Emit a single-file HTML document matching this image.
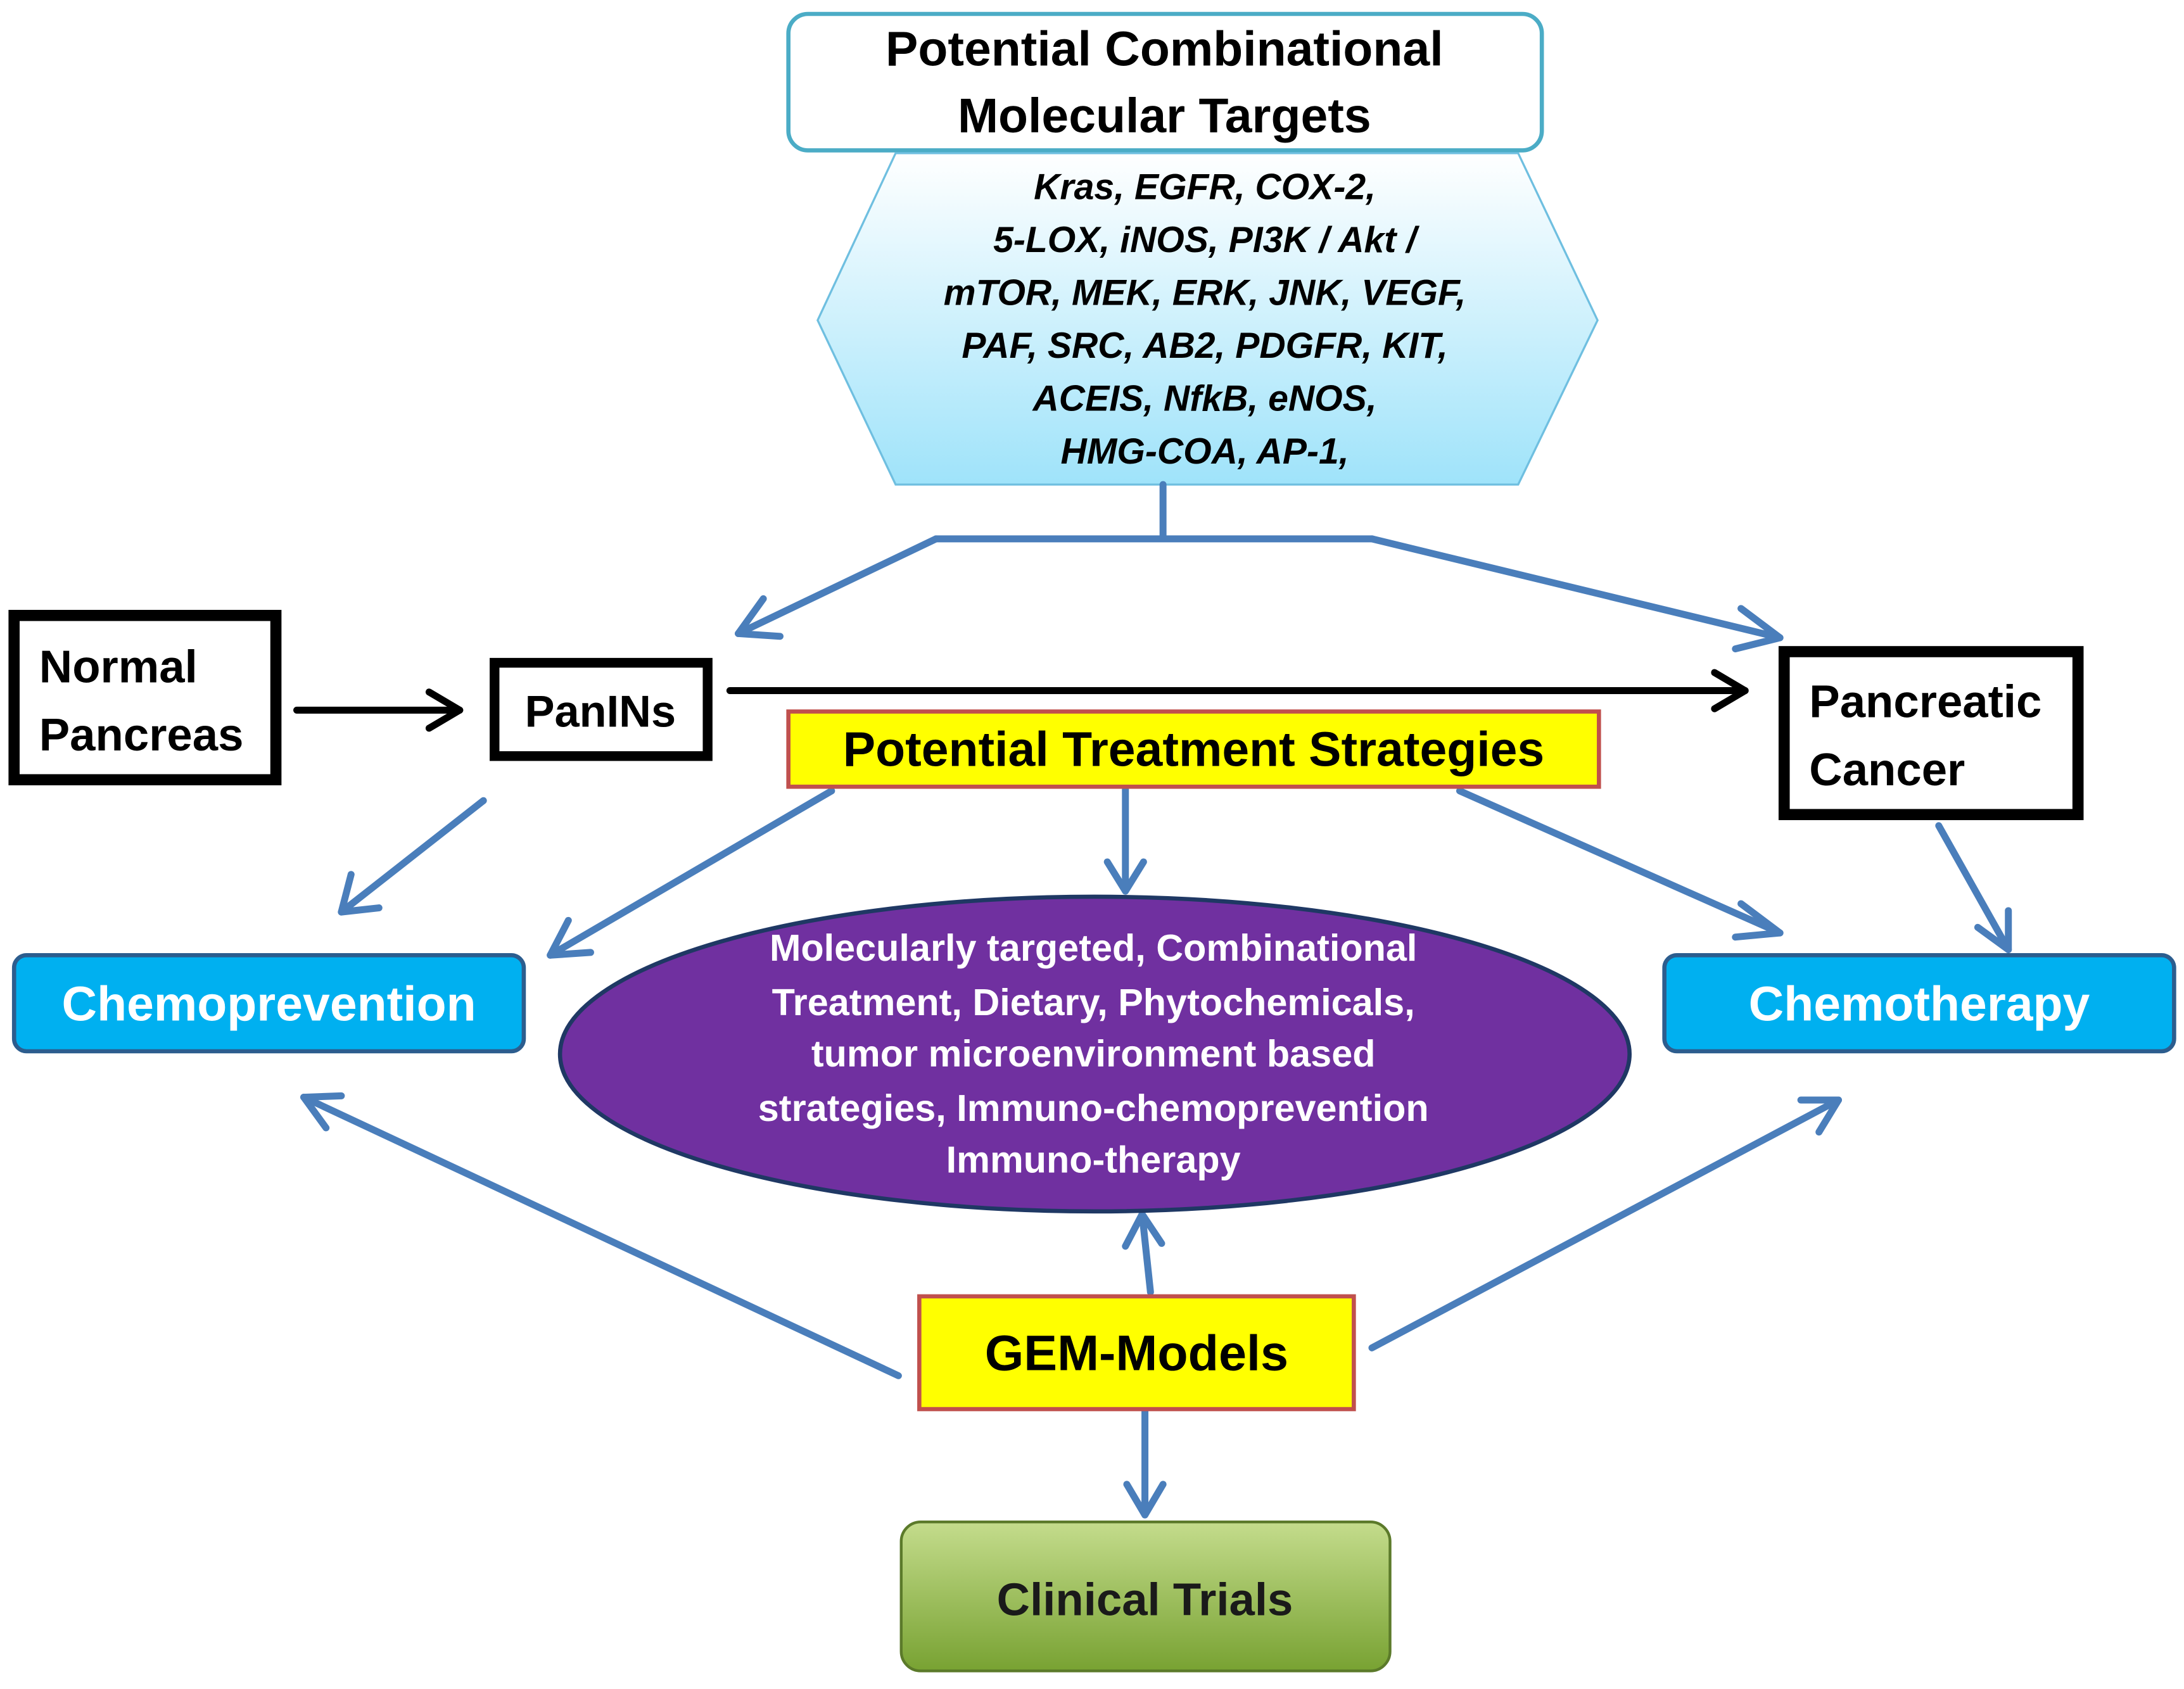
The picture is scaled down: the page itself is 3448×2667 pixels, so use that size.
<!DOCTYPE html>
<html><head><meta charset="utf-8"><style>
html,body{margin:0;padding:0;background:#fff;}
svg{display:block;}
text{font-family:"Liberation Sans",sans-serif;font-weight:bold;}
</style></head><body>
<svg width="3448" height="2667" viewBox="0 0 1568 1213" xmlns="http://www.w3.org/2000/svg">
<defs>
<linearGradient id="hx" x1="0" y1="0" x2="0" y2="1">
<stop offset="0" stop-color="#ffffff"/><stop offset="1" stop-color="#9fe3fa"/></linearGradient>
<linearGradient id="gr" x1="0" y1="0" x2="0" y2="1">
<stop offset="0" stop-color="#c4dc8c"/><stop offset="1" stop-color="#78a232"/></linearGradient>
</defs>
<!-- top box -->
<rect x="566" y="10" width="541" height="98" rx="14" fill="#fff" stroke="#4bacc6" stroke-width="3"/>
<text x="836" y="47" font-size="35" text-anchor="middle">Potential Combinational</text>
<text x="836" y="95" font-size="35" text-anchor="middle">Molecular Targets</text>
<!-- hexagon -->
<polygon points="587,230 643,110 1090,110 1147,230 1090,348 643,348" fill="url(#hx)" stroke="#6fbfe0" stroke-width="1.5"/>
<g font-size="26" font-style="italic" text-anchor="middle">
<text x="865" y="143">Kras, EGFR, COX-2,</text>
<text x="865" y="181">5-LOX,  iNOS, PI3K / Akt /</text>
<text x="865" y="219">mTOR, MEK, ERK, JNK,  VEGF,</text>
<text x="865" y="257">PAF, SRC, AB2, PDGFR, KIT,</text>
<text x="865" y="295">ACEIS, NfkB, eNOS,</text>
<text x="865" y="333">HMG-COA,  AP-1,</text>
</g>
<!-- blue connectors -->
<g stroke="#4a7ebb" stroke-width="5" fill="none" stroke-linecap="round" stroke-linejoin="round">
<path d="M835,348 V387 M672,387 H985"/>
<path d="M672,387 L530,455"/><path d="M548,430 L530,455 L560,457"/>
<path d="M985,387 L1278,458"/><path d="M1250,437 L1278,458 L1246,466"/>
<path d="M347,575 L245,655"/><path d="M252,628 L245,655 L272,652"/>
<path d="M597,568 L395,686"/><path d="M408,661 L395,686 L424,684"/>
<path d="M808,567 V640"/><path d="M795,619 L808,640 L821,619"/>
<path d="M1048,568 L1278,670"/><path d="M1250,649 L1278,670 L1246,673"/>
<path d="M1392,593 L1442,682"/><path d="M1442,654 L1442,682 L1420,666"/>
<path d="M645,988 L218,788"/><path d="M234,810 L218,788 L245,787"/>
<path d="M985,968 L1320,790"/><path d="M1293,790 L1320,790 L1306,813"/>
<path d="M826,928 L820,872"/><path d="M808,895 L820,872 L834,893"/>
<path d="M822,1012 V1088"/><path d="M809,1066 L822,1088 L835,1066"/>
</g>
<!-- black boxes -->
<rect x="10" y="442" width="188" height="118" fill="#fff" stroke="#000" stroke-width="8"/>
<text x="28" y="490" font-size="33">Normal</text>
<text x="28" y="539" font-size="33">Pancreas</text>
<rect x="355" y="476" width="153" height="67" fill="#fff" stroke="#000" stroke-width="7"/>
<text x="431" y="522" font-size="32" text-anchor="middle">PanINs</text>
<rect x="1281" y="468" width="211" height="117" fill="#fff" stroke="#000" stroke-width="8"/>
<text x="1299" y="515" font-size="33">Pancreatic</text>
<text x="1299" y="564" font-size="33">Cancer</text>
<g stroke="#000" stroke-width="5" fill="none" stroke-linecap="round" stroke-linejoin="round">
<path d="M213,510 H330"/><path d="M308,497 L330,510 L308,523"/>
<path d="M524,496 H1253"/><path d="M1231,483 L1253,496 L1231,509"/>
</g>
<!-- treatment strategies -->
<rect x="566" y="511" width="582" height="54" fill="#ffff00" stroke="#c0504d" stroke-width="3"/>
<text x="857" y="550" font-size="35" text-anchor="middle">Potential Treatment Strategies</text>
<!-- blue boxes -->
<rect x="10" y="686" width="366" height="69" rx="9" fill="#00b0f0" stroke="#2c5d8e" stroke-width="3"/>
<text x="193" y="733" font-size="35" fill="#fff" text-anchor="middle">Chemoprevention</text>
<rect x="1195" y="686" width="366" height="69" rx="9" fill="#00b0f0" stroke="#2c5d8e" stroke-width="3"/>
<text x="1378" y="733" font-size="35" fill="#fff" text-anchor="middle">Chemotherapy</text>
<!-- ellipse -->
<ellipse cx="786" cy="757" rx="384" ry="113" fill="#7030a0" stroke="#1f3864" stroke-width="3"/>
<g font-size="27" fill="#fff" text-anchor="middle">
<text x="785" y="690">Molecularly targeted, Combinational</text>
<text x="785" y="729">Treatment, Dietary, Phytochemicals,</text>
<text x="785" y="766">tumor microenvironment based</text>
<text x="785" y="805">strategies, Immuno-chemoprevention</text>
<text x="785" y="842">Immuno-therapy</text>
</g>
<!-- GEM -->
<rect x="660" y="931" width="312" height="81" fill="#ffff00" stroke="#c0504d" stroke-width="3"/>
<text x="816" y="984" font-size="36" text-anchor="middle">GEM-Models</text>
<!-- clinical -->
<rect x="647" y="1093" width="351" height="107" rx="14" fill="url(#gr)" stroke="#5b7a2a" stroke-width="2"/>
<text x="822" y="1160" font-size="33" fill="#1a1a1a" text-anchor="middle">Clinical Trials</text>
</svg>
</body></html>
